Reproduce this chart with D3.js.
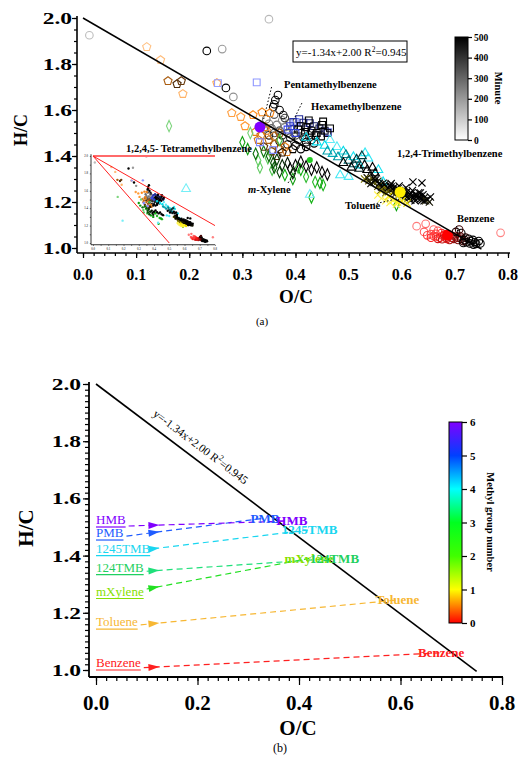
<!DOCTYPE html>
<html>
<head>
<meta charset="utf-8">
<script src="https://cdn.jsdelivr.net/npm/d3@7"></script>
<style>
body{margin:0;background:#fff}
svg{display:block}
text{font-family:"Liberation Serif","Times New Roman",serif}
</style>
</head>
<body>
<svg id="chart" width="522" height="762"></svg>
<script>
// ---- panel (a) data : [O/C, H/C, minute] ----
var benzene = [[0.628,1.095,10],[0.645,1.105,15],[0.66,1.08,20],[0.642,1.07,25],[0.655,1.06,30],[0.668,1.075,35],[0.648,1.055,40],
	[0.665,1.05,50],[0.675,1.065,55],[0.655,1.045,60],[0.672,1.045,70],[0.68,1.058,80],[0.688,1.05,90],[0.668,1.04,100],[0.786,1.066,5],
	[0.684,1.045,110],[0.692,1.056,120],[0.676,1.038,130],[0.695,1.045,140],[0.69,1.035,150],[0.70,1.05,160],[0.698,1.04,170],[0.705,1.045,180],
	[0.706,1.035,200],[0.71,1.05,220],[0.712,1.04,240],[0.716,1.03,260],[0.72,1.045,280],[0.718,1.035,300],[0.722,1.025,320],[0.726,1.04,340],
	[0.73,1.03,360],[0.728,1.02,380],[0.734,1.035,400],[0.738,1.025,420],[0.74,1.018,440],[0.745,1.03,460],[0.716,1.022,470],[0.735,1.015,480],
	[0.748,1.02,500],[0.702,1.07,300],[0.712,1.065,350],[0.708,1.08,260],[0.66,1.052,45],[0.678,1.052,65],[0.664,1.062,40],[0.685,1.04,95]]
var toluene = [[0.530,1.300,200],[0.538,1.292,220],[0.545,1.300,240],[0.548,1.285,260],[0.555,1.290,280],[0.560,1.275,300],[0.565,1.282,320],
	[0.570,1.268,340],[0.572,1.258,180],[0.578,1.270,360],[0.582,1.255,380],[0.585,1.262,400],[0.590,1.248,420],[0.593,1.258,440],[0.598,1.240,460],
	[0.602,1.252,480],[0.606,1.235,500],[0.610,1.245,470],[0.613,1.228,450],[0.618,1.238,430],[0.622,1.222,410],[0.626,1.232,390],[0.630,1.215,370],
	[0.634,1.225,350],[0.638,1.208,330],[0.642,1.218,310],[0.645,1.205,290],[0.575,1.245,250],[0.588,1.235,270],[0.600,1.225,300],[0.612,1.215,320],
	[0.625,1.205,340],[0.555,1.268,230],[0.565,1.255,210],[0.580,1.280,390],[0.595,1.270,410],[0.608,1.262,430],[0.620,1.250,450],[0.632,1.240,470],
	[0.640,1.232,490],[0.535,1.305,300],[0.542,1.28,320],[0.55,1.295,340],[0.558,1.282,360],[0.562,1.265,380],[0.568,1.275,400],[0.574,1.26,420],
	[0.58,1.265,440],[0.586,1.248,460],[0.59,1.258,480],[0.596,1.25,500],[0.603,1.242,490],[0.607,1.228,470],[0.615,1.235,450],[0.619,1.225,430],
	[0.624,1.215,410],[0.628,1.225,390],[0.636,1.214,370],[0.642,1.205,350],[0.648,1.212,330],[0.652,1.2,310],[0.583,1.24,290],[0.595,1.232,300],
	[0.605,1.218,320],[0.617,1.208,340],[0.56,1.25,200],[0.57,1.24,220],
	[0.562,1.215,10],[0.57,1.205,20],[0.578,1.198,30],[0.585,1.21,40],[0.592,1.2,50],[0.60,1.205,60],[0.575,1.225,70],
	[0.59,1.19,35],[0.555,1.23,25],[0.61,1.195,80],[0.621,1.287,480],[0.638,1.283,490],[0.635,1.239,500],[0.654,1.222,495],[0.55,1.31,400]]
var mXylene = [[0.162,1.53,5],[0.315,1.50,10],[0.33,1.38,15],[0.333,1.35,20],[0.348,1.39,25],[0.356,1.34,30],[0.37,1.47,35],[0.405,1.35,40],
	[0.42,1.31,45],[0.437,1.287,50],[0.452,1.274,55],[0.43,1.22,60],[0.38,1.317,65],[0.41,1.34,70],[0.446,1.283,75],[0.59,1.187,80],
	[0.30,1.46,85],[0.31,1.43,90],[0.395,1.30,95],[0.34,1.42,150],[0.35,1.40,180],[0.358,1.37,210],[0.365,1.385,240],[0.375,1.36,270],
	[0.385,1.37,300],[0.39,1.345,330],[0.40,1.36,360],[0.41,1.375,390],[0.42,1.355,420],[0.43,1.34,450],[0.44,1.35,480],[0.45,1.33,500],
	[0.36,1.35,200],[0.395,1.325,260],[0.325,1.41,160],[0.37,1.33,230],[0.46,1.32,470]]
var tmb124 = [[0.194,1.257,5],[0.427,1.232,10],[0.465,1.47,15],[0.478,1.44,20],[0.50,1.31,25],[0.484,1.317,30],[0.531,1.413,35],[0.537,1.39,40],
	[0.509,1.396,45],[0.556,1.34,50],[0.565,1.287,55],[0.44,1.46,60],[0.455,1.445,65],[0.49,1.42,70],[0.52,1.36,75],[0.42,1.48,80],
	[0.47,1.41,120],[0.48,1.395,150],[0.495,1.405,180],[0.50,1.38,210],[0.51,1.365,240],[0.515,1.385,270],[0.52,1.345,300],[0.53,1.36,330],
	[0.535,1.34,360],[0.545,1.35,390],[0.55,1.325,420],[0.505,1.35,450],[0.49,1.37,480],[0.54,1.31,500],[0.46,1.42,140],[0.525,1.40,260]]
var tmb1245 = [[0.12,1.874,5],[0.146,1.817,10],[0.16,1.726,150],[0.177,1.713,250],[0.185,1.726,220],[0.188,1.67,20],[0.252,1.717,30],
	[0.28,1.587,40],[0.297,1.57,45],[0.305,1.53,50],[0.32,1.578,60],[0.337,1.59,70],[0.352,1.587,75],[0.343,1.526,80],[0.38,1.44,90],
	[0.384,1.417,100],[0.335,1.49,120],[0.35,1.47,140],[0.36,1.45,160],[0.37,1.43,180],[0.355,1.42,200],[0.34,1.44,230],[0.365,1.40,260],
	[0.375,1.415,290],[0.33,1.47,110],[0.345,1.51,95],[0.325,1.505,85],[0.36,1.485,130],[0.37,1.50,170],[0.395,1.43,320]]
var pmb = [[0.254,1.717,5],[0.327,1.72,10],[0.358,1.426,15],[0.333,1.46,20],[0.40,1.548,25],[0.461,1.504,30],
	[0.396,1.548,150],[0.407,1.56,170],[0.415,1.545,190],[0.427,1.543,210],[0.435,1.53,230],[0.445,1.52,250],[0.455,1.51,270],[0.46,1.50,290],
	[0.42,1.525,310],[0.43,1.51,330],[0.44,1.50,350],[0.41,1.53,370],[0.425,1.555,390],[0.45,1.535,410],[0.438,1.49,430],[0.448,1.485,450],
	[0.418,1.505,470],[0.405,1.515,490],[0.452,1.55,500],[0.465,1.52,480],[0.39,1.53,120],[0.40,1.50,100],[0.385,1.515,80]]
var hmb = [[0.012,1.925,20],[0.35,1.995,25],[0.233,1.857,400],[0.262,1.865,60],[0.269,1.696,420],[0.283,1.657,80],[0.367,1.665,440],
	[0.362,1.643,400],[0.358,1.613,380],[0.377,1.578,300],[0.37,1.60,350],[0.36,1.625,420],[0.35,1.54,100],[0.355,1.52,150],[0.36,1.50,200],
	[0.365,1.535,120],[0.37,1.51,180],[0.375,1.49,250],[0.38,1.525,140],[0.385,1.50,220],[0.39,1.48,260],[0.395,1.515,160],[0.40,1.49,200],
	[0.405,1.47,280],[0.41,1.50,240],[0.415,1.48,300],[0.42,1.46,320],[0.425,1.49,260],[0.43,1.47,340],[0.435,1.455,360],[0.37,1.465,300],
	[0.385,1.45,330],[0.40,1.445,350],[0.39,1.545,110],[0.375,1.555,90],[0.345,1.56,130],[0.36,1.58,170],[0.38,1.565,230],[0.41,1.43,380],
	[0.42,1.44,400],[0.35,1.49,270],[0.34,1.52,200]]
// averages shown as filled markers
var meanOC = [0.333, 0.597, 0.686, 0.427]
var meanHC = [1.526, 1.243, 1.056, 1.383]
var meanColor = ["#8000ff", "#ffee00", "#ff0000", "#22cc22"]

var minuteTicks = [0,100,200,300,400,500]

// ---- panel (b) data ----
var precursors = ["HMB","PMB","1245TMB","124TMB","mXylene","Toluene","Benzene"]
var precursorHC = [1.5, 1.4545, 1.4, 1.3333, 1.25, 1.1429, 1.0]
var soaOC = [0.386, 0.333, 0.421, 0.47, 0.42, 0.594, 0.68]
var soaHC = [1.521, 1.531, 1.49, 1.39, 1.39, 1.245, 1.06]
var labelColor = ["#8000ff","#1f5cff","#19d6f0","#1fd060","#86e000","#f7b733","#ff2020"]
var lineColor = ["#8000ff","#1f5cff","#19d6f0","#1fe07a","#22e022","#f7b733","#ff2020"]
var methylTicks = [0,1,2,3,4,5,6]

var svg = d3.select("#chart")

var xa = d3.scaleLinear().domain([0,0.8]).range([83,508])
var ya = d3.scaleLinear().domain([1,2]).range([248,18])
var xb = d3.scaleLinear().domain([0,0.8]).range([96,502])
var yb = d3.scaleLinear().domain([1,2]).range([670,384])
var xi = d3.scaleLinear().domain([0,0.8]).range([93,215])
var yi = d3.scaleLinear().domain([1,2]).range([243,156])

function markerPath(kind, s){
	if(kind=="circle") return "M"+s+",0A"+s+","+s+" 0 1 1 "+(-s)+",0A"+s+","+s+" 0 1 1 "+s+",0Z"
	if(kind=="square") return "M"+(-s)+","+(-s)+"H"+s+"V"+s+"H"+(-s)+"Z"
	if(kind=="triangle") return "M0,"+(-s*1.15)+"L"+s+","+(s*0.6)+"L"+(-s)+","+(s*0.6)+"Z"
	if(kind=="diamond") return "M0,"+(-s*1.35)+"L"+(s*0.62)+",0L0,"+(s*1.35)+"L"+(-s*0.62)+",0Z"
	if(kind=="cross") return "M"+(-s)+","+(-s)+"L"+s+","+s+"M"+(-s)+","+s+"L"+s+","+(-s)
	var p = d3.path()
	for(var k=0;k<5;k++){
		var a = -Math.PI/2 + k*2*Math.PI/5
		if(k==0) p.moveTo(s*Math.cos(a), s*Math.sin(a)); else p.lineTo(s*Math.cos(a), s*Math.sin(a))
	}
	p.closePath()
	return p.toString()
}

function timeColor(base){
	return d3.scaleLinear().domain([0,60,330])
		.range([d3.interpolateRgb(base,"#fff")(0.5), base, "#000"])
		.interpolate(d3.interpolateRgb).clamp(true)
}

var seriesA = [
	{data:hmb, shape:"circle", size:3.8, color:"#9a9a9a"},
	{data:tmb1245, shape:"pentagon", size:4.3, color:"#ff8c1a"},
	{data:mXylene, shape:"diamond", size:4.2, color:"#10b010"},
	{data:pmb, shape:"square", size:3.4, color:"#3c4cff"},
	{data:tmb124, shape:"triangle", size:4.4, color:"#00e0f0"},
	{data:toluene, shape:"cross", size:3.6, color:"#ffee00"},
	{data:benzene, shape:"circle", size:3.8, color:"#ff1a1a"}
]

function drawTicks(g, axisFn, scale, values, len){
	g.call(axisFn(scale).tickValues(values).tickSize(len).tickFormat(""))
	g.select(".domain").remove()
	g.selectAll(".tick line").attr("stroke","#000").attr("stroke-width",1.2)
}

// ================= panel (a) =================
var ga = svg.append("g")

// inset
var gi = ga.append("g")
gi.append("line").attr("x1",91).attr("x2",91).attr("y1",yi(2.02)).attr("y2",yi(0.98)).attr("stroke","#000").attr("stroke-width",0.8)
gi.append("line").attr("x1",91).attr("x2",xi(0.8)).attr("y1",yi(0.98)).attr("y2",yi(0.98)).attr("stroke","#000").attr("stroke-width",0.8)
var giX = gi.append("g").attr("transform","translate(0,"+yi(0.98)+")")
drawTicks(giX, d3.axisBottom, xi, d3.range(0,0.801,0.05), 1.2)
giX.selectAll(".tick line").attr("stroke-width",0.5)
var giY = gi.append("g").attr("transform","translate(91,0)")
drawTicks(giY, d3.axisLeft, yi, d3.range(1,2.001,0.1), 1.2)
giY.selectAll(".tick line").attr("stroke-width",0.5)
gi.selectAll(".ilx").data(d3.range(0,0.801,0.1)).join("text").attr("x",d=>xi(d)).attr("y",yi(0.98)+5)
	.attr("text-anchor","middle").attr("font-size",3).text(d=>d.toFixed(1))
gi.selectAll(".ily").data(d3.range(1,2.001,0.2)).join("text").attr("x",88).attr("y",d=>yi(d)+1)
	.attr("text-anchor","end").attr("font-size",3).text(d=>d.toFixed(1))
seriesA.forEach(function(s){
	var c = timeColor(s.color)
	gi.append("g").selectAll("circle").data(s.data).join("circle")
		.attr("cx",d=>xi(d[0])).attr("cy",d=>yi(d[1])).attr("r",1.2).attr("fill",d=>c(d[2]))
})
gi.append("line").attr("x1",xi(0)).attr("y1",yi(2)).attr("x2",xi(0.8)).attr("y2",yi(2)).attr("stroke","#ff6a6a").attr("stroke-width",2)
gi.append("line").attr("x1",xi(0)).attr("y1",yi(2)).attr("x2",xi(0.8)).attr("y2",yi(1.2)).attr("stroke","#ff2020").attr("stroke-width",1)
gi.append("line").attr("x1",xi(0)).attr("y1",yi(2)).attr("x2",xi(0.5)).attr("y2",yi(1.0)).attr("stroke","#ff2020").attr("stroke-width",1)

// scatter
seriesA.forEach(function(s){
	var c = timeColor(s.color)
	ga.append("g").selectAll("path").data(s.data).join("path")
		.attr("transform",d=>"translate("+xa(d[0])+","+ya(d[1])+")")
		.attr("d",markerPath(s.shape,s.size))
		.attr("fill","none").attr("stroke",d=>c(d[2])).attr("stroke-width",1.1)
})
ga.append("g").selectAll("circle").data(meanOC).join("circle")
	.attr("cx",d=>xa(d)).attr("cy",(d,i)=>ya(meanHC[i])).attr("r",(d,i)=>i==3?3:5.5)
	.attr("fill",(d,i)=>meanColor[i])

// fit line
ga.append("line").attr("x1",xa(0)).attr("y1",ya(2)).attr("x2",xa(0.75)).attr("y2",ya(2-1.34*0.75))
	.attr("stroke","#000").attr("stroke-width",1.5)

// leader lines
var leaders = [[0.355,1.70,0.34,1.56],[0.412,1.63,0.395,1.55],[0.386,1.283,0.403,1.339],[0.54,1.187,0.582,1.209],[0.703,1.095,0.706,1.065]]
ga.append("g").selectAll("line").data(leaders).join("line")
	.attr("x1",d=>xa(d[0])).attr("y1",d=>ya(d[1])).attr("x2",d=>xa(d[2])).attr("y2",d=>ya(d[3]))
	.attr("stroke","#000").attr("stroke-width",1).attr("stroke-dasharray","1.5,2")

// compound labels
var labelsA = [["Pentamethylbenzene",284,88],["Hexamethylbenzene",311,110],["1,2,4-Trimethylbenzene",397,157],
	["1,2,4,5- Tetramethylbenzene",126,152],["Toluene",345,209],["Benzene",457,222]]
ga.append("g").selectAll("text").data(labelsA).join("text")
	.attr("x",d=>d[1]).attr("y",d=>d[2]).attr("font-size",10.5).attr("font-weight","bold").text(d=>d[0])
var mx = ga.append("text").attr("x",248).attr("y",193).attr("font-size",10.5).attr("font-weight","bold")
mx.append("tspan").attr("font-style","italic").text("m")
mx.append("tspan").text("-Xylene")

// axes
ga.append("line").attr("x1",77).attr("x2",77).attr("y1",16).attr("y2",253).attr("stroke","#000").attr("stroke-width",1.6)
ga.append("line").attr("x1",77).attr("x2",510).attr("y1",253).attr("y2",253).attr("stroke","#000").attr("stroke-width",1.6)
var axX = ga.append("g").attr("transform","translate(0,253)")
drawTicks(axX.append("g"), d3.axisBottom, xa, d3.range(0,0.801,0.02), 3)
drawTicks(axX.append("g"), d3.axisBottom, xa, d3.range(0,0.801,0.1), 5)
var axY = ga.append("g").attr("transform","translate(77,0)")
drawTicks(axY.append("g"), d3.axisLeft, ya, d3.range(1,2.001,0.05), 3)
drawTicks(axY.append("g"), d3.axisLeft, ya, d3.range(1,2.001,0.2), 5)
ga.selectAll(".xla").data(d3.range(0,0.801,0.1)).join("text").attr("x",d=>xa(d)).attr("y",280)
	.attr("text-anchor","middle").attr("font-size",16).attr("font-weight","bold").text(d=>d.toFixed(1))
ga.selectAll(".yla").data(d3.range(1,2.001,0.2)).join("text")
	.attr("transform",d=>"translate(72,"+(ya(d)+6)+") scale(1.38,1)")
	.attr("text-anchor","end").attr("font-size",17).attr("font-weight","bold").text(d=>d.toFixed(1))
ga.append("text").attr("transform","translate(27,130) rotate(-90)").attr("text-anchor","middle")
	.attr("font-size",18).attr("font-weight","bold").text("H/C")
ga.append("text").attr("x",296).attr("y",303).attr("text-anchor","middle").attr("font-size",19).attr("font-weight","bold").text("O/C")
ga.append("text").attr("x",262).attr("y",325).attr("text-anchor","middle").attr("font-size",11).text("(a)")

// equation box
ga.append("rect").attr("x",293).attr("y",41).attr("width",114).attr("height",21).attr("fill","#fff").attr("stroke","#000").attr("stroke-width",1)
var eq = ga.append("text").attr("x",296).attr("y",56).attr("font-size",11)
eq.append("tspan").text("y=-1.34x+2.00 R")
eq.append("tspan").attr("dy",-4).attr("font-size",7.5).text("2")
eq.append("tspan").attr("dy",4).text("=0.945")

// minute colorbar
var cbA = d3.scaleLinear().domain([0,500]).range([140,37])
var defs = svg.append("defs")
var grA = defs.append("linearGradient").attr("id","gA").attr("x1",0).attr("x2",0).attr("y1",1).attr("y2",0)
grA.append("stop").attr("offset",0).attr("stop-color","#fff")
grA.append("stop").attr("offset",1).attr("stop-color","#000")
ga.append("rect").attr("x",455).attr("y",cbA(500)).attr("width",13).attr("height",cbA(0)-cbA(500))
	.attr("fill","url(#gA)").attr("stroke","#000").attr("stroke-width",1)
var cbAx = ga.append("g").attr("transform","translate(468,0)")
drawTicks(cbAx, d3.axisRight, cbA, minuteTicks, 4)
ga.selectAll(".cba").data(minuteTicks).join("text").attr("x",474).attr("y",d=>cbA(d)+3.5)
	.attr("font-size",9.5).attr("font-weight","bold").text(d=>d)
ga.append("text").attr("transform","translate(495,88) rotate(90)").attr("text-anchor","middle")
	.attr("font-size",10.5).attr("font-weight","bold").text("Minute")

// ================= panel (b) =================
var gb = svg.append("g")
gb.append("line").attr("x1",xb(0)).attr("y1",yb(2)).attr("x2",xb(0.75)).attr("y2",yb(2-1.34*0.75))
	.attr("stroke","#000").attr("stroke-width",1.6)
var ang = Math.atan2(yb(2-1.34*0.75)-yb(2), xb(0.75)-xb(0))*180/Math.PI
var ex = xb(0.1), ey = yb(2-1.34*0.1)
var eqb = gb.append("text").attr("transform","translate("+ex+","+ey+") rotate("+ang+") translate(0,-9)").attr("font-size",11.5)
eqb.append("tspan").text("y=-1.34x+2.00  R")
eqb.append("tspan").attr("dy",-5).attr("font-size",8).text("2")
eqb.append("tspan").attr("dy",5).text("=0.945")

var order = d3.range(precursors.length).reverse()
order.forEach(function(i){
	var g = gb.append("g")
	var x0 = xb(0), y0 = yb(precursorHC[i]), x1 = xb(soaOC[i]), y1 = yb(soaHC[i])
	var lab = g.append("text").attr("x",x0).attr("y",y0-3).attr("font-size",13).attr("fill",labelColor[i]).text(precursors[i])
	var w = lab.node().getComputedTextLength()
	g.append("line").attr("x1",x0).attr("y1",y0).attr("x2",x0+w).attr("y2",y0).attr("stroke",labelColor[i]).attr("stroke-width",1.2)
	var tipX = xb(0.125), t = (tipX-x0)/(x1-x0), tipY = y0+(y1-y0)*t
	var sx = x0+w+3, sy = y0+(y1-y0)*(sx-x0)/(x1-x0)
	g.append("line").attr("x1",sx).attr("y1",sy).attr("x2",x1).attr("y2",y1)
		.attr("stroke",lineColor[i]).attr("stroke-width",1.2).attr("stroke-dasharray","6,4")
	var a = Math.atan2(y1-y0, x1-x0)*180/Math.PI
	g.append("path").attr("d","M0,0L-11,-3.5L-11,3.5Z").attr("fill",lineColor[i])
		.attr("transform","translate("+tipX+","+tipY+") rotate("+a+")")
})
order.forEach(function(i){
	gb.append("text").attr("x",xb(soaOC[i])).attr("y",yb(soaHC[i])+4.5).attr("text-anchor","middle")
		.attr("font-size",13).attr("font-weight","bold").attr("fill",labelColor[i]).text(precursors[i])
})

// axes (b)
gb.append("line").attr("x1",89).attr("x2",89).attr("y1",382).attr("y2",677).attr("stroke","#000").attr("stroke-width",1.8)
gb.append("line").attr("x1",89).attr("x2",503).attr("y1",677).attr("y2",677).attr("stroke","#000").attr("stroke-width",1.8)
var bX = gb.append("g").attr("transform","translate(0,677)")
drawTicks(bX.append("g"), d3.axisBottom, xb, d3.range(0,0.801,0.02), 4)
drawTicks(bX.append("g"), d3.axisBottom, xb, d3.range(0,0.801,0.2), 8)
var bY = gb.append("g").attr("transform","translate(89,0)")
drawTicks(bY.append("g"), d3.axisLeft, yb, d3.range(1,2.001,0.02), 4)
drawTicks(bY.append("g"), d3.axisLeft, yb, d3.range(1,2.001,0.2), 6)
gb.selectAll(".xlb").data(d3.range(0,0.801,0.2)).join("text").attr("x",d=>xb(d)).attr("y",710)
	.attr("text-anchor","middle").attr("font-size",21).attr("font-weight","bold").text(d=>d.toFixed(1))
gb.selectAll(".ylb").data(d3.range(1,2.001,0.2)).join("text")
	.attr("transform",d=>"translate(81,"+(yb(d)+6)+") scale(1.38,1)")
	.attr("text-anchor","end").attr("font-size",17).attr("font-weight","bold").text(d=>d.toFixed(1))
gb.append("text").attr("transform","translate(33,528) rotate(-90)").attr("text-anchor","middle")
	.attr("font-size",21).attr("font-weight","bold").text("H/C")
gb.append("text").attr("x",298).attr("y",735).attr("text-anchor","middle").attr("font-size",21).attr("font-weight","bold").text("O/C")
gb.append("text").attr("x",280).attr("y",752).attr("text-anchor","middle").attr("font-size",12).text("(b)")

// methyl colorbar
var cbB = d3.scaleLinear().domain([0,6]).range([623,422])
var jet = ["#ff0000","#ff8000","#ffff00","#40ff00","#00ff20","#00ffff","#0040ff","#8000ff"]
var jetPos = [0,0.5,1,2,3,4,5,6]
var grB = defs.append("linearGradient").attr("id","gB").attr("x1",0).attr("x2",0).attr("y1",1).attr("y2",0)
grB.selectAll("stop").data(jet).join("stop").attr("offset",(d,i)=>jetPos[i]/6).attr("stop-color",d=>d)
gb.append("rect").attr("x",449).attr("y",cbB(6)).attr("width",13).attr("height",cbB(0)-cbB(6))
	.attr("fill","url(#gB)").attr("stroke","#000").attr("stroke-width",1)
var cbBx = gb.append("g").attr("transform","translate(462,0)")
drawTicks(cbBx, d3.axisRight, cbB, methylTicks, 5)
gb.selectAll(".cbb").data(methylTicks).join("text").attr("x",470).attr("y",d=>cbB(d)+4)
	.attr("font-size",11).attr("font-weight","bold").text(d=>d)
gb.append("text").attr("transform","translate(487,522) rotate(90)").attr("text-anchor","middle")
	.attr("font-size",10.5).attr("font-weight","bold").text("Methyl group number")
</script>
</body>
</html>
